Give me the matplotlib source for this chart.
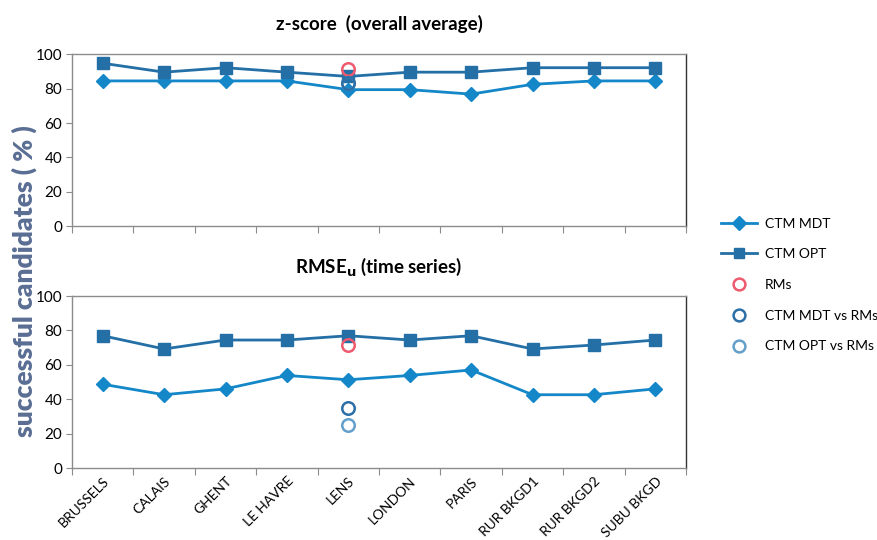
import matplotlib
matplotlib.use("Agg")
import matplotlib.pyplot as plt
from matplotlib.lines import Line2D

plt.rcParams['font.family'] = ['Lato', 'DejaVu Sans']

sites = ["BRUSSELS", "CALAIS", "GHENT", "LE HAVRE", "LENS", "LONDON",
         "PARIS", "RUR BKGD1", "RUR BKGD2", "SUBU BKGD"]

# z-score (overall average)
z_mdt = [84.6, 84.6, 84.6, 84.6, 79.5, 79.5, 76.9, 82.6, 84.6, 84.6]
z_opt = [94.9, 89.7, 92.3, 89.7, 87.2, 89.7, 89.7, 92.3, 92.3, 92.3]
z_rms = 91.3
z_mdt_vs_rms = 83.3
z_opt_vs_rms = 83.3

# RMSEu (time series)
r_mdt = [48.7, 42.6, 46.0, 53.8, 51.3, 53.8, 57.0, 42.6, 42.6, 46.0]
r_opt = [76.9, 69.2, 74.4, 74.4, 76.9, 74.4, 76.9, 69.2, 71.5, 74.4]
r_rms = 71.8
r_mdt_vs_rms = 34.8
r_opt_vs_rms = 24.9

ref_site = "LENS"

C_MDT = "#1387C8"
C_OPT = "#236FA6"
C_RMS = "#EE5A6E"
C_MVR = "#2C6EA6"
C_OVR = "#639FCB"
GRID = "#8C8C8C"

fig = plt.figure(figsize=(8.77, 5.40), dpi=100)
W, H = 877, 540
ax1 = fig.add_axes([72 / W, 1 - 226 / H, 614 / W, 171.5 / H])
ax2 = fig.add_axes([72 / W, 1 - 468 / H, 614 / W, 172 / H])

x = list(range(len(sites)))
xi = sites.index(ref_site)


def style(ax):
    ax.set_xlim(-0.5, len(sites) - 0.5)
    ax.set_ylim(0, 100)
    ax.set_yticks([0, 20, 40, 60, 80, 100])
    ax.set_xticks([i - 0.5 for i in range(len(sites) + 1)])
    ax.set_xticks(x, minor=True)
    ax.tick_params(axis='x', which='major', length=5, color=GRID, labelbottom=False)
    ax.tick_params(axis='x', which='minor', length=0)
    ax.tick_params(axis='y', length=4, color=GRID, labelsize=11, pad=3)
    for s in ['left', 'bottom', 'top']:
        ax.spines[s].set_color(GRID)
        ax.spines[s].set_linewidth(1.0)
    ax.spines['right'].set_color('#333333')
    ax.spines['right'].set_linewidth(1.0)


def draw(ax, mdt, opt, rms, mvr, ovr):
    ax.plot(x, mdt, color=C_MDT, lw=2, marker='D', ms=7.5, mfc=C_MDT, mec=C_MDT, zorder=3)
    ax.plot(x, opt, color=C_OPT, lw=2, marker='s', ms=8, mfc=C_OPT, mec=C_OPT, zorder=3)
    ax.plot([xi], [rms], ls='none', marker='o', ms=9, mfc='none', mec=C_RMS, mew=1.8, zorder=4)
    ax.plot([xi], [ovr], ls='none', marker='o', ms=9, mfc='none', mec=C_OVR, mew=1.8, zorder=4)
    ax.plot([xi], [mvr], ls='none', marker='o', ms=9, mfc='none', mec=C_MVR, mew=1.8, zorder=4)


draw(ax1, z_mdt, z_opt, z_rms, z_mdt_vs_rms, z_opt_vs_rms)
draw(ax2, r_mdt, r_opt, r_rms, r_mdt_vs_rms, r_opt_vs_rms)
style(ax1)
style(ax2)

ax2.tick_params(axis='x', which='minor', labelbottom=True, labelsize=10, pad=5)
ax2.set_xticklabels(sites, minor=True, rotation=45, ha='right', va='top',
                    rotation_mode='anchor')

ax1.set_title("z-score  (overall average)", fontsize=13.5, fontweight='bold', pad=18)
ax2.set_title("RMSE$_\\mathbf{u}$ (time series)", fontsize=13.5, fontweight='bold', pad=17)

fig.text(24 / W, 1 - 281 / H, "successful candidates ( % )", rotation=90,
         ha='center', va='center', fontsize=19, fontweight='heavy', color='#5A6E94')

handles = [
    Line2D([], [], color=C_MDT, lw=2, marker='D', ms=7, mfc=C_MDT, mec=C_MDT),
    Line2D([], [], color=C_OPT, lw=2, marker='s', ms=7.5, mfc=C_OPT, mec=C_OPT),
    Line2D([], [], ls='none', marker='o', ms=8.5, mfc='none', mec=C_RMS, mew=1.8),
    Line2D([], [], ls='none', marker='o', ms=8.5, mfc='none', mec=C_MVR, mew=1.8),
    Line2D([], [], ls='none', marker='o', ms=8.5, mfc='none', mec=C_OVR, mew=1.8),
]
labels = ["CTM MDT", "CTM OPT", "RMs", "CTM MDT vs RMs", "CTM OPT vs RMs"]
fig.legend(handles, labels, loc='upper left', bbox_to_anchor=(708 / W, 1 - 205 / H),
           frameon=False, fontsize=10, labelspacing=1.35, handlelength=2.6,
           handletextpad=0.6)

fig.savefig("out.png", dpi=100)
